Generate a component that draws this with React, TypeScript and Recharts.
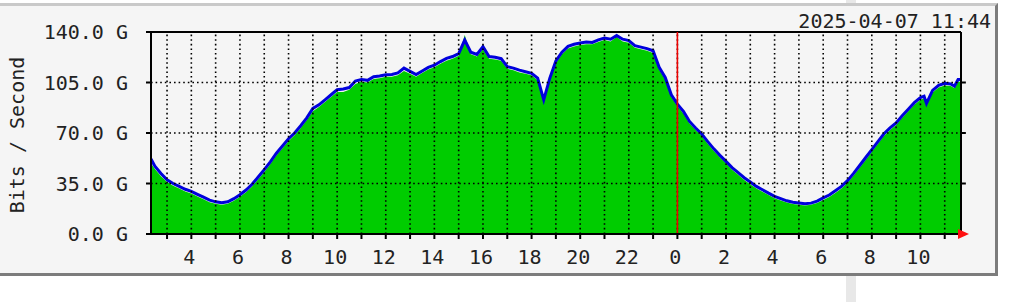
import React from "react";
import {
  ComposedChart,
  Area,
  Line,
  XAxis,
  YAxis,
  ReferenceLine,
  ReferenceDot,
} from "recharts";

// Hours since midnight of the previous day (24 = midnight, 35.67 = 11:40 next day)
const hours = [
  2.34, 2.5, 2.75, 3, 3.25, 3.5, 3.75, 4, 4.25, 4.5, 4.75, 5, 5.25, 5.5, 5.75, 6,
  6.25, 6.5, 6.75, 7, 7.25, 7.5, 7.75, 8, 8.25, 8.5, 8.75, 9, 9.25, 9.5, 9.75, 10,
  10.25, 10.5, 10.75, 11, 11.25, 11.5, 11.75, 12, 12.25, 12.5, 12.75, 13, 13.25,
  13.5, 13.75, 14, 14.25, 14.5, 14.75, 15, 15.25, 15.5, 15.75, 16, 16.25, 16.5,
  16.75, 17, 17.25, 17.5, 17.75, 18, 18.25, 18.5, 18.75, 19, 19.25, 19.5, 19.75,
  20, 20.25, 20.5, 20.75, 21, 21.25, 21.5, 21.75, 22, 22.25, 22.5, 22.75, 23,
  23.25, 23.5, 23.75, 24, 24.25, 24.5, 24.75, 25, 25.25, 25.5, 25.75, 26, 26.25,
  26.5, 26.75, 27, 27.25, 27.5, 27.75, 28, 28.25, 28.5, 28.75, 29, 29.25, 29.5,
  29.75, 30, 30.25, 30.5, 30.75, 31, 31.25, 31.5, 31.75, 32, 32.25, 32.5, 32.75,
  33, 33.25, 33.5, 33.75, 34, 34.15, 34.25, 34.5, 34.75, 35, 35.25, 35.4, 35.55,
  35.67,
];

// Outgoing traffic (blue line), Gbit/s
const outbound = [
  52, 47, 42, 37.5, 35, 33, 31, 29.6, 27.5, 25.5, 23.5, 22.3, 21.6, 22.3, 24.5, 27.2,
  30.5, 34.5, 39.5, 44.6, 50, 56, 61, 66, 70, 75, 80.5, 87, 89.5, 93, 96.5, 100,
  100.5, 101.5, 106, 107, 106.5, 109, 109.5, 110.4, 110.5, 111.6, 115, 112.7, 110.5,
  113, 115.5, 117, 119.5, 121.7, 123, 125, 134.4, 126, 124.5, 129.8, 123, 122.5,
  121.5, 116, 115, 113.6, 112.5, 111.3, 108, 93, 108, 120, 126, 130, 131.5,
  132.4, 133, 132.8, 134.5, 135.8, 135, 137.5, 135, 134, 130.5, 129.5, 128.5, 127,
  115.5, 108.5, 96.5, 90, 85, 78, 73.5, 69.3, 64, 59, 54.5, 50.3, 46,
  42.5, 39, 36, 33, 30.7, 28.3, 26.1, 24.5, 23, 22, 21.5, 21, 21.4,
  22.8, 25, 27, 30, 33, 37, 42, 47.5, 53, 58.5, 64, 69.5, 73.5,
  77, 82, 86.5, 91, 94.5, 95.5, 90.5, 99.5, 103, 104.5, 104, 102.4, 107,
  107,
];

// Incoming traffic (green area), Gbit/s
const inbound = [
  49, 45, 40, 36, 33.5, 31.5, 29.5, 28, 26, 24, 22, 21, 20.3, 21, 23, 25.8,
  29, 33, 38, 43, 48.5, 54.5, 59.5, 64.5, 68.5, 73.5, 79, 85, 88, 91.5, 95, 98.5,
  98.5, 100, 104, 105.5, 105, 107.5, 108, 109, 109, 110, 113, 111, 109,
  111.5, 114, 115.5, 118, 120, 121.5, 123.5, 138, 124.5, 123, 128, 121.5, 121,
  120, 114.5, 113.5, 112, 111, 110, 106.5, 91.5, 106, 118.5, 124.5, 128.5, 130,
  131, 131.5, 131.5, 133, 134.5, 133.5, 136.5, 133.5, 132.5, 129, 128, 127, 125.5,
  114, 107, 95, 88.5, 83.5, 76.5, 72, 68, 62.5, 57.5, 53, 49, 44.5,
  41, 37.5, 34.5, 31.5, 29.3, 27, 24.8, 23.2, 21.8, 20.8, 20.2, 19.8, 20.2,
  21.5, 23.6, 25.6, 28.5, 31.5, 35.5, 40.5, 46, 51.5, 57, 62.5, 68, 72,
  75.5, 80.5, 85, 89.5, 93, 94, 89, 98, 101.5, 103, 102.5, 101, 105.5,
  105.5,
];

const hourTicks = [
  3, 4, 5, 6, 7, 8, 9, 10, 11, 12, 13, 14, 15, 16, 17, 18, 19, 20, 21, 22, 23, 24,
  25, 26, 27, 28, 29, 30, 31, 32, 33, 34, 35,
];
const valueTicks = [0, 35, 70, 105, 140];
const gridValues = [35, 70, 105];
const X_MIN = 2.34;
const X_MAX = 35.67;
const Y_MAX = 140;
const TITLE = "2025-04-07 11:44";
const Y_LABEL = "Bits / Second";

const FONT = "'DejaVu Sans Mono', 'Liberation Mono', monospace";

const data = hours.map((h, i) => ({ h, inb: inbound[i], outb: outbound[i] }));

const HourTick = (props: any) => {
  const { x, y, payload } = props;
  const h = payload.value as number;
  if (h % 2 !== 0) return <g />;
  return (
    <text
      x={x - 2}
      y={y + 25}
      textAnchor="middle"
      fontFamily={FONT}
      fontSize={20}
      fill="#222"
    >
      {String(h % 24)}
    </text>
  );
};

const ValueTick = (props: any) => {
  const { y, payload } = props;
  return (
    <text
      x={128}
      y={y + 7}
      textAnchor="end"
      fontFamily={FONT}
      fontSize={20}
      fill="#222"
    >
      {`${(payload.value as number).toFixed(1)} G`}
    </text>
  );
};

const Arrow = (props: any) => {
  const { cx, cy } = props;
  return (
    <polygon
      points={`${cx - 3},${cy - 5} ${cx + 8},${cy} ${cx - 3},${cy + 5}`}
      fill="#ff1010"
    />
  );
};

export default function App() {
  return (
    <div
      style={{
        position: "absolute",
        left: 0,
        top: 0,
        width: 1009,
        height: 302,
        background: "#ffffff",
        overflow: "hidden",
      }}
    >
      <div
        style={{
          position: "absolute",
          left: 846,
          top: 0,
          width: 10,
          height: 302,
          background: "#e8e8e8",
        }}
      />
      <div
        style={{
          position: "absolute",
          left: -4,
          top: 3,
          width: 1002,
          height: 273,
          boxSizing: "border-box",
          background: "#f5f5f5",
          borderTop: "3px solid #c9c9c9",
          borderLeft: "3px solid #c9c9c9",
          borderRight: "3px solid #7c7c7c",
          borderBottom: "3px solid #7c7c7c",
        }}
      />
      <div style={{ position: "absolute", left: 0, top: 0 }}>
        <ComposedChart
          width={1009}
          height={302}
          data={data}
          margin={{ top: 32, right: 48, bottom: 0, left: 0 }}
        >
          <XAxis
            dataKey="h"
            type="number"
            domain={[X_MIN, X_MAX]}
            ticks={hourTicks}
            interval={0}
            allowDataOverflow
            height={68}
            tickSize={5}
            tickMargin={0}
            tick={<HourTick />}
            tickLine={{ stroke: "#000", strokeWidth: 2 }}
            axisLine={{ stroke: "#000", strokeWidth: 2 }}
          />
          <YAxis
            type="number"
            domain={[0, Y_MAX]}
            ticks={valueTicks}
            interval={0}
            width={151}
            tickSize={5}
            tick={<ValueTick />}
            tickLine={{ stroke: "#000", strokeWidth: 2 }}
            axisLine={{ stroke: "#000", strokeWidth: 2 }}
          />
          <Area
            type="linear"
            dataKey="inb"
            stroke="none"
            fill="#00cc00"
            fillOpacity={1}
            isAnimationActive={false}
          />
          <Line
            type="linear"
            dataKey="outb"
            stroke="#0000dd"
            strokeWidth={3}
            dot={false}
            activeDot={false}
            isAnimationActive={false}
          />
          {hourTicks.map((h) => (
            <ReferenceLine
              key={`v${h}`}
              x={h}
              stroke="#000"
              strokeWidth={1.6}
              strokeDasharray="1.6 3"
            />
          ))}
          {gridValues.map((v) => (
            <ReferenceLine
              key={`h${v}`}
              y={v}
              stroke="#000"
              strokeWidth={1.6}
              strokeDasharray="1.6 3"
            />
          ))}
          {gridValues.map((v) => (
            <ReferenceLine
              key={`rt${v}`}
              segment={[
                { x: X_MAX, y: v },
                { x: X_MAX + 0.2, y: v },
              ]}
              ifOverflow="visible"
              stroke="#000"
              strokeWidth={2}
            />
          ))}
          <ReferenceLine y={Y_MAX} stroke="#000" strokeWidth={2} />
          <ReferenceLine x={X_MAX} stroke="#000" strokeWidth={2} />
          <ReferenceLine x={24} stroke="#ee0000" strokeWidth={1.6} />
          <ReferenceDot
            x={X_MAX}
            y={0}
            ifOverflow="visible"
            shape={<Arrow />}
          />
          <text
            x={991}
            y={28}
            textAnchor="end"
            fontFamily={FONT}
            fontSize={20}
            fill="#222"
          >
            {TITLE}
          </text>
          <text
            x={24}
            y={135}
            transform="rotate(-90, 24, 135)"
            textAnchor="middle"
            fontFamily={FONT}
            fontSize={20}
            fill="#222"
          >
            {Y_LABEL}
          </text>
        </ComposedChart>
      </div>
    </div>
  );
}
